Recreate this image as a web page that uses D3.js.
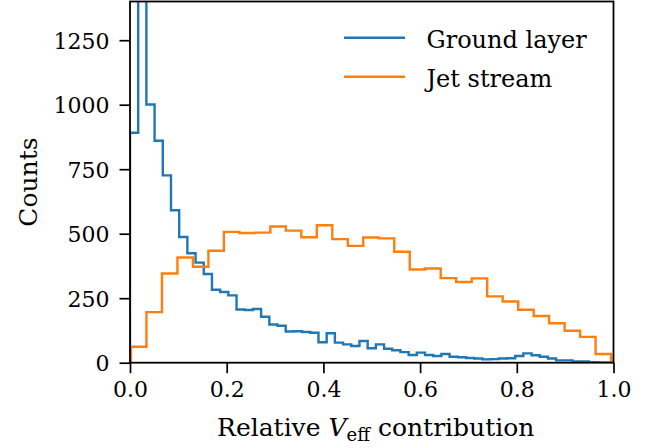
<!DOCTYPE html>
<html>
<head>
<meta charset="utf-8">
<script src="https://cdn.jsdelivr.net/npm/d3@7"></script>
<style>
  html, body { margin: 0; padding: 0; background: #fff; }
  svg { display: block; }
  text { font-family: "DejaVu Serif", serif; fill: #000; }
</style>
</head>
<body>
<svg id="chart" width="660" height="448"></svg>
<script>
// ---- data (histogram counts) ----
const seriesNames = ["Ground layer", "Jet stream"];
const seriesColors = ["#1f77b4", "#ff7f0e"];

const groundRange = [0.0, 1.0];
const groundCounts = [891, 2100, 1001, 860, 726, 591, 487, 424, 388, 344,
  283, 274, 261, 206, 204, 208, 178, 148, 143, 121,
  122, 119, 116, 79, 114, 78, 71, 65, 84, 56,
  71, 54, 48, 41, 30, 39, 30, 26, 34, 23,
  21, 18, 16, 13, 14, 16, 17, 26, 36, 29,
  23, 16, 9, 9, 5, 5, 2, 1, 1];

const jetRange = [0.002, 0.995];
const jetCounts = [62, 196, 346, 408, 372, 434, 507, 503, 504, 528,
  512, 486, 533, 479, 453, 485, 482, 430, 361, 365,
  328, 313, 327, 257, 237, 205, 181, 153, 124, 100, 34];

const xTicks = [0, 0.2, 0.4, 0.6, 0.8, 1.0];
const xTickLabels = ["0.0", "0.2", "0.4", "0.6", "0.8", "1.0"];
const yTicks = [0, 250, 500, 750, 1000, 1250];
const yTickLabels = ["0", "250", "500", "750", "1000", "1250"];
const xDomain = [0, 1];
const yDomain = [0, 1400];

// ---- layout ----
const FONT = '"DejaVu Serif", serif';
const L = 130, R = 613.5, T = 1.5, B = 362.7;
const svg = d3.select("#chart");
const x = d3.scaleLinear().domain(xDomain).range([L, R]);
const y = d3.scaleLinear().domain(yDomain).range([B, T]);

svg.append("defs").append("clipPath").attr("id", "plotclip")
  .append("rect").attr("x", L).attr("y", T).attr("width", R - L).attr("height", B - T);

function stepPoints(range, counts) {
  const n = counts.length;
  const w = (range[1] - range[0]) / n;
  const pts = [[range[0], 0]];
  counts.forEach((c, i) => {
    pts.push([range[0] + i * w, c]);
    pts.push([range[0] + (i + 1) * w, c]);
  });
  pts.push([range[1], 0]);
  return pts;
}

const line = d3.line().x(d => x(d[0])).y(d => y(d[1]));
const g = svg.append("g").attr("clip-path", "url(#plotclip)");
[[groundRange, groundCounts], [jetRange, jetCounts]].forEach((s, i) => {
  g.append("path")
    .attr("d", line(stepPoints(s[0], s[1])))
    .attr("fill", "none")
    .attr("stroke", seriesColors[i])
    .attr("stroke-width", 2.4)
    .attr("stroke-linejoin", "miter");
});

// ---- axes ----
const fs = 22;
const xAxis = d3.axisBottom(x).tickValues(xTicks).tickFormat((d, i) => xTickLabels[i])
  .tickSizeInner(10.5).tickSizeOuter(0).tickPadding(7);
const yAxis = d3.axisLeft(y).tickValues(yTicks).tickFormat((d, i) => yTickLabels[i])
  .tickSizeInner(10.5).tickSizeOuter(0).tickPadding(10);

const gx = svg.append("g").attr("transform", `translate(0,${B})`).call(xAxis);
const gy = svg.append("g").attr("transform", `translate(${L},0)`).call(yAxis);
[gx, gy].forEach(a => {
  a.attr("font-family", null).attr("font-size", null);
  a.select(".domain").remove();
  a.selectAll(".tick line").attr("stroke", "#000").attr("stroke-width", 1.7);
  a.selectAll(".tick text").style("font-family", FONT)
    .style("font-size", fs + "px").attr("fill", "#000");
});
gx.selectAll(".tick text").attr("dy", "0.78em");
gy.selectAll(".tick text").attr("dy", "0.36em");

// spines
svg.append("rect").attr("x", L).attr("y", T).attr("width", R - L).attr("height", B - T)
  .attr("fill", "none").attr("stroke", "#000").attr("stroke-width", 1.8);

// axis labels
const xl = svg.append("text").attr("x", (L + R) / 2 + 4).attr("y", 436)
  .attr("text-anchor", "middle").style("font-size", "25px");
xl.append("tspan").text("Relative ");
xl.append("tspan").attr("font-style", "italic").text("V");
xl.append("tspan").attr("dy", 5).style("font-size", "18px").text("eff");
xl.append("tspan").attr("dy", -5).text(" contribution");

svg.append("text").attr("transform", `translate(37,${(T + B) / 2}) rotate(-90)`)
  .attr("text-anchor", "middle").style("font-size", "25px")
  .text("Counts");

// legend
const legY = [37.7, 76.7];
seriesNames.forEach((name, i) => {
  svg.append("line").attr("x1", 344).attr("x2", 405).attr("y1", legY[i]).attr("y2", legY[i])
    .attr("stroke", seriesColors[i]).attr("stroke-width", 2.6);
  svg.append("text").attr("x", 426.5).attr("y", legY[i] + 10.2)
    .style("font-size", "24px").text(name);
});
</script>
</body>
</html>
